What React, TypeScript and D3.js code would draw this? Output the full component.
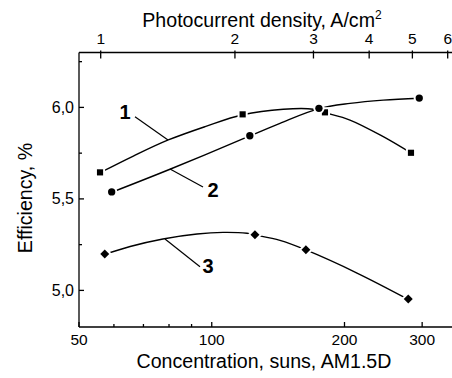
import React, { useRef, useEffect } from "react";
import * as d3 from "d3";

// measured points: concentration (suns) and efficiency (%)
const conc1 = [55.8, 117.5, 180.6, 283];
const eff1 = [5.645, 5.962, 5.973, 5.752];
const conc2 = [59.3, 122, 175, 295.5];
const eff2 = [5.538, 5.845, 5.995, 6.051];
const conc3 = [57.2, 125.3, 163.5, 279];
const eff3 = [5.199, 5.304, 5.222, 4.953];

// fitted curves
const fitConc1 = [55.8, 66.4, 79.7, 96.6, 117.5, 145.3, 170, 180.6, 205.8, 244.9, 283];
const fitEff1 = [5.643, 5.734, 5.822, 5.895, 5.960, 5.990, 5.990, 5.971, 5.931, 5.840, 5.751];
const fitConc2 = [59.3, 80.4, 122, 142.8, 175, 205.8, 244.9, 295.5];
const fitEff2 = [5.536, 5.662, 5.844, 5.913, 5.993, 6.022, 6.040, 6.050];
const fitConc3 = [57.2, 65.3, 77.5, 92.6, 106.1, 120.2, 125.2, 142.8, 163.5, 213.5, 279];
const fitEff3 = [5.197, 5.240, 5.281, 5.308, 5.317, 5.312, 5.303, 5.273, 5.221, 5.095, 4.951];

const bottomTicks = [50, 100, 200, 300];
const bottomMinor = [60, 70, 80, 90];
const topTicks = [1, 2, 3, 4, 5, 6];
const yTicks = [5.0, 5.5, 6.0];
const yMinor = [5.25, 5.75, 6.25];

const App = () => {
  const ref = useRef<SVGSVGElement>(null);

  useEffect(() => {
    const width = 452;
    const height = 378;
    const left = 79;
    const top = 52.5;
    const bottom = 327;
    const right = 452;
    const font = "'Liberation Sans', Arial, sans-serif";

    const svg = d3.select(ref.current).attr("width", width).attr("height", height);
    svg.selectAll("*").remove();

    const x = d3.scaleLog().domain([50, 350.6]).range([left, right]);
    const xTop = d3.scaleLog().domain([0.894, 6.135]).range([left, right]);
    const y = d3.scaleLinear().domain([4.8, 6.3]).range([bottom, top]);

    // axis lines
    const axis = svg.append("g").attr("stroke", "#000").attr("stroke-width", 1.3);
    axis.append("line").attr("x1", left).attr("x2", left).attr("y1", top).attr("y2", bottom);
    axis.append("line").attr("x1", left).attr("x2", right).attr("y1", top).attr("y2", top);
    axis.append("line").attr("x1", left).attr("x2", right).attr("y1", bottom).attr("y2", bottom);

    // bottom ticks
    bottomTicks.forEach(t => {
      axis.append("line").attr("x1", x(t)).attr("x2", x(t)).attr("y1", bottom).attr("y2", bottom - 5);
      svg.append("text").attr("x", x(t)).attr("y", 345).attr("text-anchor", "middle")
        .style("font-family", font).style("font-size", "15.5px").text(t);
    });
    bottomMinor.forEach(t => {
      axis.append("line").attr("x1", x(t)).attr("x2", x(t)).attr("y1", bottom).attr("y2", bottom - 3);
    });

    // top ticks
    topTicks.forEach(t => {
      axis.append("line").attr("x1", xTop(t)).attr("x2", xTop(t)).attr("y1", top - 2).attr("y2", top + 6);
      svg.append("text").attr("x", xTop(t)).attr("y", 44).attr("text-anchor", "middle")
        .style("font-family", font).style("font-size", "15.5px").text(t);
    });

    // left ticks
    yTicks.forEach(t => {
      axis.append("line").attr("x1", left).attr("x2", left + 5).attr("y1", y(t)).attr("y2", y(t));
      svg.append("text").attr("x", 74).attr("y", y(t) + 5.5).attr("text-anchor", "end")
        .style("font-family", font).style("font-size", "16px").text(t.toFixed(1).replace(".", ","));
    });
    yMinor.forEach(t => {
      axis.append("line").attr("x1", left).attr("x2", left + 3).attr("y1", y(t)).attr("y2", y(t));
    });

    // axis titles
    const title = svg.append("text").attr("x", 262).attr("y", 27).attr("text-anchor", "middle")
      .style("font-family", font).style("font-size", "19.6px");
    title.append("tspan").text("Photocurrent density, A/cm");
    title.append("tspan").attr("dy", -8).style("font-size", "12px").text("2");

    svg.append("text").attr("x", 264).attr("y", 368).attr("text-anchor", "middle")
      .style("font-family", font).style("font-size", "19.6px").text("Concentration, suns, AM1.5D");

    svg.append("text").attr("transform", "translate(32,198) rotate(-90)").attr("text-anchor", "middle")
      .style("font-family", font).style("font-size", "19.6px").text("Efficiency, %");

    const line = d3.line<[number, number]>()
      .x(d => x(d[0]))
      .y(d => y(d[1]))
      .curve(d3.curveCatmullRom.alpha(0.5));

    const fits = [
      { c: fitConc1, e: fitEff1 },
      { c: fitConc2, e: fitEff2 },
      { c: fitConc3, e: fitEff3 },
    ];
    fits.forEach(f => {
      const pts = f.c.map((c, i) => [c, f.e[i]] as [number, number]);
      svg.append("path").attr("d", line(pts)).attr("fill", "none")
        .attr("stroke", "#000").attr("stroke-width", 1.4);
    });

    const series = [
      { c: conc1, e: eff1, shape: d3.symbolSquare, size: 38, rot: 0 },
      { c: conc2, e: eff2, shape: d3.symbolCircle, size: 42, rot: 0 },
      { c: conc3, e: eff3, shape: d3.symbolSquare, size: 40, rot: 45 },
    ];
    series.forEach(s => {
      const pts = s.c.map((c, i) => [c, s.e[i]] as [number, number]);
      svg.selectAll(null).data(pts).enter().append("path")
        .attr("d", d3.symbol().type(s.shape).size(s.size)())
        .attr("transform", d => `translate(${x(d[0])},${y(d[1])}) rotate(${s.rot})`)
        .attr("fill", "#000")
        .attr("stroke", "#fff")
        .attr("stroke-width", 4)
        .style("paint-order", "stroke");
    });

    // series labels with leader lines
    const labels = [
      { text: "1", tx: 125, ty: 118.5, x1: 135, y1: 116.7, x2: 168, y2: 140 },
      { text: "2", tx: 213, ty: 197, x1: 170, y1: 169, x2: 203, y2: 187 },
      { text: "3", tx: 208, ty: 273, x1: 165, y1: 239, x2: 200, y2: 266.7 },
    ];
    labels.forEach(l => {
      svg.append("line").attr("x1", l.x1).attr("y1", l.y1).attr("x2", l.x2).attr("y2", l.y2)
        .attr("stroke", "#000").attr("stroke-width", 1.2);
      svg.append("text").attr("x", l.tx).attr("y", l.ty).attr("text-anchor", "middle")
        .style("font-family", font).style("font-size", "20px").style("font-weight", "bold").text(l.text);
    });
  }, []);

  return (
    <div style={{ position: "absolute", left: 0, top: 0 }}>
      <svg ref={ref}></svg>
    </div>
  );
};

export default App;
